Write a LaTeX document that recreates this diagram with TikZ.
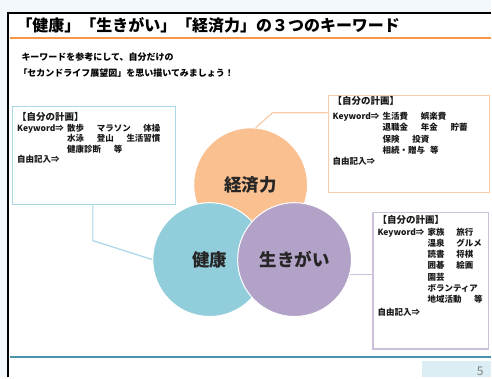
\documentclass[tikz,border=0pt]{standalone}
\usepackage{fontspec}
\setmainfont{Noto Sans CJK JP}
\usepackage{tikz}
\usetikzlibrary{positioning}

\definecolor{pageblue}{HTML}{F3F8FC}
\definecolor{titleorange}{HTML}{F79646}
\definecolor{keizaiorange}{HTML}{FAC090}
\definecolor{kenkoblue}{HTML}{92CDDC}
\definecolor{ikigaipurple}{HTML}{B3A2C7}
\definecolor{kenkoline}{HTML}{A8D8E5}
\definecolor{keizailine}{HTML}{FBCBA6}
\definecolor{ikigailine}{HTML}{CCC0DA}
\definecolor{footblue}{HTML}{4A93AC}
\definecolor{pagenumblue}{HTML}{DAEEF3}

\tikzset{
  circ/.style={circle, minimum size=114pt, inner sep=0pt, draw=white, line width=1pt,
    font={\fontsize{17.5}{18}\selectfont\bfseries}, text=black!85},
  planbox/.style={draw, line width=1.2pt, fill=white, anchor=north west, inner sep=0pt},
  plantext/.style={inner sep=0pt, align=left, text=black!90},
  link/.style={line width=1.2pt},
}
\newcommand\wordgap{\hspace{1.5em}}
\newcommand\planfont{\fontsize{9.5}{10}\selectfont}

\begin{document}
\begin{tikzpicture}[x=1pt,y=-1pt]
  % page and slide frame
  \fill[pageblue] (0,0) rectangle (492,378);
  \fill[white] (8,13) rectangle (492,378);
  \draw[line width=1.5pt] (8,378) -- (8,13) -- (492,13);
  \useasboundingbox (0,0) rectangle (492,378);

  % title and lead text
  \node[anchor=west, font={\fontsize{16}{16}\selectfont\bfseries}] (title) at (13,25)
    {「健康」「生きがい」「経済力」の３つのキーワード};
  \draw[titleorange, line width=2.5pt] (10,38) -- (492,38);
  \node[anchor=west, font={\fontsize{9}{9}\selectfont\bfseries}] (lead1) at (18,57)
    {キーワードを参考にして、自分だけの};
  \node[anchor=west, font={\fontsize{9}{9}\selectfont\bfseries}] (lead2) at (15,73)
    {「セカンドライフ展望図」を思い描いてみましょう！};

  % three keywords
  \node[circ, fill=keizaiorange] (keizai) at (251,185) {経済力};
  \node[circ, fill=kenkoblue] (kenko) at (210,260) {健康};
  \node[circ, fill=ikigaipurple] (ikigai) at (295,260) {生きがい};

  % plan boxes
  \node[planbox, draw=kenkoline, minimum width=163pt, minimum height=98pt] (kenkobox) at (12,106) {};
  \node[planbox, draw=keizailine, minimum width=162pt, minimum height=97pt] (keizaibox) at (328,95) {};
  \node[planbox, draw=ikigailine, minimum width=116pt, minimum height=137pt] (ikigaibox) at (373,212) {};

  \node[plantext, font={\fontsize{8.5}{10.4}\selectfont\bfseries},
    below right=6pt and 5pt of kenkobox.north west] (kenkotext) {%
    \begin{tabular}{@{}p{50pt}@{}l@{}}
      \multicolumn{2}{@{}l@{}}{\planfont 【自分の計画】}\\[1pt]
      Keyword⇒ & 散歩\wordgap マラソン\wordgap 体操\\
               & 水泳\wordgap 登山\wordgap 生活習慣\\
               & 健康診断\wordgap 等\\
      自由記入⇒ &
    \end{tabular}};
  \node[plantext, font={\fontsize{8.5}{11.2}\selectfont\bfseries},
    below right=1.2pt and 5pt of keizaibox.north west] (keizaitext) {%
    \begin{tabular}{@{}p{50pt}@{}l@{}}
      \multicolumn{2}{@{}l@{}}{\planfont 【自分の計画】}\\[4.2pt]
      Keyword⇒ & 生活費\wordgap 娯楽費\\
               & 退職金\wordgap 年金\wordgap 貯蓄\\
               & 保険\wordgap 投資\\
               & 相続・贈与\hspace{0.6em}等\\
      自由記入⇒ &
    \end{tabular}};
  \node[plantext, font={\fontsize{8.5}{11.1}\selectfont\bfseries},
    below right=3.2pt and 5pt of ikigaibox.north west] (ikigaitext) {%
    \begin{tabular}{@{}p{50pt}@{}l@{\hspace{1.4em}}l@{}}
      \multicolumn{3}{@{}l@{}}{\planfont 【自分の計画】}\\[1.4pt]
      Keyword⇒ & 家族 & 旅行\\
               & 温泉 & グルメ\\
               & 読書 & 将棋\\
               & 囲碁 & 絵画\\
               & 園芸 & \\
               & \multicolumn{2}{@{}l@{}}{ボランティア}\\
               & \multicolumn{2}{@{}l@{}}{地域活動\hspace{1.5em}等}\\[2pt]
      自由記入⇒ & &
    \end{tabular}};

  % connectors
  \coordinate (kenkobend) at (93,241);
  \draw[link, kenkoline] (kenkobox.south -| kenkobend) -- (kenkobend) -- (kenko.west);
  \coordinate (keizaibend) at (273,113);
  \draw[link, keizailine] (keizaibox.west |- keizaibend) -- (keizaibend) -- (keizai.85);
  \draw[link, ikigailine] (ikigai.-15) -- (ikigai.-15 -| ikigaibox.west);

  % footer
  \draw[footblue, line width=2pt] (10,358) -- (492,358);
  \fill[pagenumblue] (423,362) rectangle (492,378);
  \node[text=gray, font={\fontsize{12}{12}\selectfont}] (pagenum) at (481,372) {5};
\end{tikzpicture}
\end{document}
